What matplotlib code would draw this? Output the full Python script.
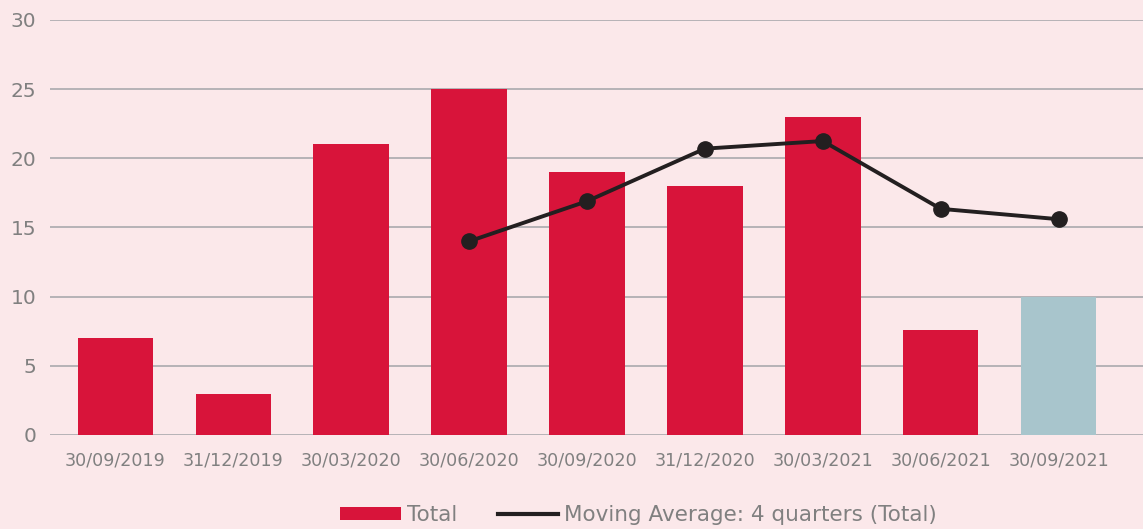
import matplotlib
matplotlib.use("Agg")
import matplotlib.pyplot as plt
from matplotlib.patches import Patch
from matplotlib.lines import Line2D

categories = ["30/09/2019", "31/12/2019", "30/03/2020", "30/06/2020", "30/09/2020",
              "31/12/2020", "30/03/2021", "30/06/2021", "30/09/2021"]
totals = [7, 3, 21, 25, 19, 18, 23, 7.6, 10]
moving_avg = [None, None, None, 14, 16.9, 20.7, 21.25, 16.35, 15.6]
yticks = [0, 5, 10, 15, 20, 25, 30]

bg = "#fbe8ea"
red = "#d8143a"
blue = "#a8c5cc"
grey = "#808080"
plt.rcParams['font.family'] = ['DejaVu Sans']

fig = plt.figure(figsize=(11.43, 5.29), dpi=100, facecolor=bg)
ax = fig.add_axes([50/1143, (529-435)/529, 1 - 50/1143, (435-20)/529])
ax.set_facecolor(bg)

x = list(range(len(categories)))
colors = [red]*(len(categories)-1) + [blue]
ax.bar(x, totals, width=0.64, color=colors, zorder=3)

mx = [i for i, v in zip(x, moving_avg) if v is not None]
my = [v for v in moving_avg if v is not None]
ax.plot(mx, my, color="#231f20", lw=2.8, marker="o", ms=11, zorder=4)

ax.set_ylim(0, 30)
ax.set_xlim(-0.555, 8.716)
ax.set_yticks(yticks)
ax.yaxis.grid(True, color="#b0aeb2", lw=1.3, zorder=0)
ax.set_axisbelow(True)
for s in ax.spines.values():
    s.set_visible(False)
ax.set_xticks(x)
ax.set_xticklabels(categories)
ax.tick_params(axis='x', length=0, pad=12, labelsize=12.6, labelcolor=grey)
ax.tick_params(axis='y', length=0, pad=10, labelsize=14.5, labelcolor=grey)

handles = [Patch(facecolor=red, label="Total"),
           Line2D([0], [0], color="#231f20", lw=3, label="Moving Average: 4 quarters (Total)")]
leg = fig.legend(handles=handles, loc="center", bbox_to_anchor=(0.5586, 0.026), ncol=2,
                 frameon=False, fontsize=15.5, labelcolor=grey,
                 handlelength=2.8, handleheight=0.5, handletextpad=0.28, columnspacing=1.9)

fig.savefig("out.png", dpi=100, facecolor=bg)
